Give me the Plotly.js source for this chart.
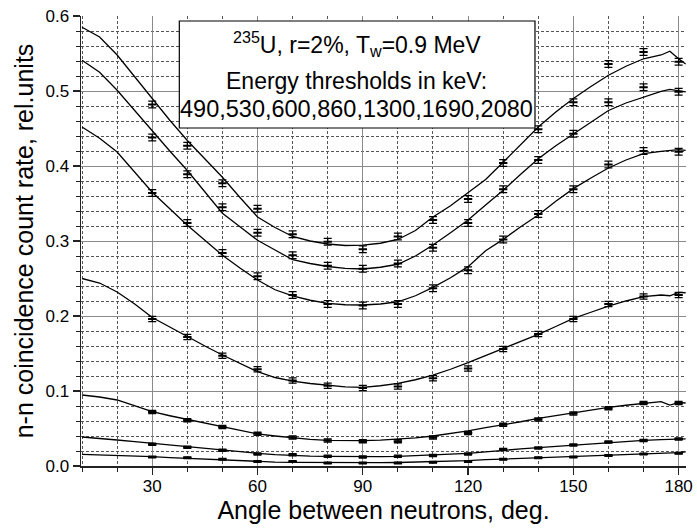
<!DOCTYPE html>
<html>
<head>
<meta charset="utf-8">
<script src="https://cdn.plot.ly/plotly-3.0.1.min.js"></script>
<style>html,body{margin:0;padding:0;background:#fff;}#chart{width:697px;height:528px;}</style>
</head>
<body>
<div id="chart"></div>
<script>
// Simulated curves (solid lines)
const curveAngles = [10,15,20,25,30,35,40,45,50,55,60,65,70,75,80,85,90,95,100,105,110,115,120,125,130,135,140,145,150,155,160,165,170,175,177.5,180,182];
const line490  = [0.585,0.572,0.548,0.519,0.489,0.461,0.434,0.409,0.385,0.358,0.332,0.318,0.306,0.300,0.296,0.294,0.2945,0.297,0.302,0.314,0.332,0.347,0.364,0.382,0.405,0.428,0.452,0.472,0.490,0.506,0.521,0.533,0.543,0.548,0.553,0.543,0.536];
const line530  = [0.541,0.525,0.501,0.474,0.446,0.420,0.394,0.366,0.337,0.319,0.301,0.288,0.275,0.270,0.266,0.2635,0.2627,0.265,0.269,0.280,0.2947,0.311,0.328,0.348,0.3676,0.389,0.4098,0.427,0.443,0.459,0.474,0.484,0.492,0.4996,0.5022,0.500,0.4987];
const line600  = [0.452,0.437,0.4187,0.392,0.365,0.343,0.321,0.301,0.281,0.264,0.248,0.235,0.2267,0.221,0.2169,0.215,0.2147,0.216,0.219,0.227,0.2382,0.251,0.2658,0.287,0.3022,0.319,0.3347,0.353,0.3698,0.384,0.3973,0.408,0.4164,0.4196,0.421,0.4218,0.4209];
const line860  = [0.250,0.244,0.232,0.216,0.198,0.185,0.172,0.160,0.148,0.137,0.1258,0.118,0.1133,0.110,0.1076,0.1055,0.1049,0.107,0.1102,0.115,0.1213,0.129,0.1378,0.147,0.157,0.166,0.1756,0.186,0.1969,0.205,0.2133,0.220,0.2258,0.228,0.227,0.2316,0.231];
const line1300 = [0.0947,0.092,0.088,0.080,0.0724,0.067,0.0622,0.057,0.0516,0.047,0.0427,0.040,0.0373,0.0355,0.0342,0.0338,0.0338,0.0345,0.0356,0.0375,0.040,0.043,0.0467,0.0511,0.0547,0.059,0.0636,0.0675,0.0711,0.075,0.0782,0.081,0.0836,0.0858,0.0813,0.0844,0.0840];
const line1690 = [0.0387,0.037,0.0347,0.0325,0.0302,0.028,0.0258,0.0235,0.0213,0.019,0.0169,0.0152,0.0140,0.0133,0.0129,0.0125,0.0124,0.0125,0.0129,0.0137,0.0147,0.0157,0.0169,0.0188,0.0213,0.0228,0.0244,0.0262,0.028,0.0298,0.0316,0.033,0.0342,0.0352,0.0356,0.036,0.0362];
const line2080 = [0.0156,0.015,0.0142,0.0133,0.0124,0.0113,0.0102,0.0091,0.008,0.0069,0.0058,0.0052,0.0048,0.0046,0.0045,0.0044,0.0044,0.0045,0.0047,0.0051,0.0058,0.0064,0.0071,0.0084,0.0093,0.0101,0.011,0.0117,0.0124,0.0131,0.0138,0.0147,0.0156,0.0166,0.0172,0.0178,0.019];

// Measured points (with error bars)
const pointAngles = [30,40,50,60,70,80,90,100,110,120,130,140,150,160,170,180];
const pts490  = [0.482,0.427,0.377,0.343,0.309,0.299,0.289,0.306,0.328,0.356,0.404,0.449,0.485,0.536,0.552,0.539];
const pts530  = [0.438,0.389,0.345,0.311,0.281,0.267,0.263,0.270,0.291,0.324,0.369,0.408,0.443,0.485,0.505,0.499];
const pts600  = [0.364,0.324,0.284,0.253,0.228,0.216,0.214,0.216,0.237,0.261,0.302,0.336,0.369,0.402,0.420,0.419];
const pts860  = [0.196,0.172,0.147,0.129,0.114,0.107,0.104,0.106,0.117,0.130,0.156,0.176,0.196,0.216,0.226,0.228];
const pts1300 = [0.072,0.061,0.052,0.043,0.038,0.034,0.033,0.033,0.038,0.044,0.055,0.062,0.070,0.077,0.084,0.084];
const pts1690 = [0.029,0.025,0.021,0.016,0.015,0.013,0.012,0.013,0.014,0.016,0.022,0.024,0.028,0.032,0.034,0.036];
const pts2080 = [0.012,0.011,0.009,0.006,0.006,0.004,0.004,0.004,0.005,0.006,0.009,0.011,0.012,0.014,0.016,0.017];
const errors = [0.0045,0.0045,0.0045,0.0035,0.002,0.0015,0.001];

const thresholds = ['490','530','600','860','1300','1690','2080'];
const lineSeries = [line490,line530,line600,line860,line1300,line1690,line2080];
const pointSeries = [pts490,pts530,pts600,pts860,pts1300,pts1690,pts2080];

const traces = [];
lineSeries.forEach((ys,i) => {
  traces.push({x: curveAngles, y: ys, type:'scatter', mode:'lines', name: thresholds[i]+' keV (calc)',
    line:{color:'#000', width:1.3}, showlegend:false});
});
pointSeries.forEach((ys,i) => {
  traces.push({x: pointAngles, y: ys, type:'scatter', mode:'markers', name: thresholds[i]+' keV',
    marker:{symbol:'line-ew', size:6, color:'#000', line:{color:'#000', width:2}},
    error_y:{type:'constant', value: errors[i], color:'#000', thickness:1.4, width:4},
    showlegend:false});
});

const FONT = 'Liberation Sans, Arial, sans-serif';
const xr = [9.7, 182.1], yr = [0, 0.6];
const layout = {
  width: 697, height: 528,
  margin: {l:81, r:11, t:16, b:62},
  paper_bgcolor:'#fff', plot_bgcolor:'#fff',
  font: {family: FONT, color:'#000'},
  showlegend: false,
  xaxis: {
    range: xr, tick0: 0, dtick: 30, ticks:'outside', ticklen: 7, tickwidth: 1.2, tickcolor:'#222',
    showline: true, linecolor:'#222', linewidth: 1.5, zeroline:false,
    showgrid: true, gridcolor:'#8a8a8a', gridwidth: 1,
    minor: {dtick: 10, tick0: 0, ticks:'outside', ticklen: 4, tickwidth: 1, tickcolor:'#222',
            showgrid: true, gridcolor:'#555', griddash:'3px,2px', gridwidth: 1},
    tickfont: {size: 17, family: FONT}, ticklabelstandoff: -3,
    title: {text: 'Angle between neutrons, deg.', font: {size: 25, family: FONT}, standoff: 2}
  },
  yaxis: {
    range: yr, tick0: 0, dtick: 0.1, tickformat: '.1f', ticks:'outside', ticklen: 7, tickwidth: 1.2, tickcolor:'#222',
    showline: true, linecolor:'#222', linewidth: 1.5, zeroline:false,
    showgrid: true, gridcolor:'#8a8a8a', gridwidth: 1,
    minor: {dtick: 0.02, tick0: 0, ticks:'outside', ticklen: 4, tickwidth: 1, tickcolor:'#222',
            showgrid: true, gridcolor:'#555', griddash:'3px,2px', gridwidth: 1},
    tickfont: {size: 17, family: FONT},
    title: {text: 'n-n coincidence count rate, rel.units', font: {size: 25, family: FONT}, standoff: 4}
  },
  xaxis2: {
    overlaying:'x', anchor:'y', side:'top', range: xr, tick0: 0, dtick: 30,
    ticks:'inside', ticklen: 7, tickwidth: 1.2, tickcolor:'#222', showticklabels:false,
    showline:true, linecolor:'#222', linewidth:1.5, showgrid:false, zeroline:false,
    minor: {dtick: 10, tick0: 0, ticks:'inside', ticklen: 4, tickwidth: 1, tickcolor:'#222', showgrid:false}
  },
  yaxis2: {
    overlaying:'y', anchor:'x', side:'right', range: yr, tick0: 0, dtick: 0.1,
    ticks:'inside', ticklen: 7, tickwidth: 1.2, tickcolor:'#222', showticklabels:false,
    showline:true, linecolor:'#222', linewidth:1.5, showgrid:false, zeroline:false,
    minor: {dtick: 0.02, tick0: 0, ticks:'inside', ticklen: 4, tickwidth: 1, tickcolor:'#222', showgrid:false}
  },
  shapes: [
    {type:'rect', xref:'paper', yref:'paper', x0:0.1625, x1:0.7504, y0:0.7511, y1:0.9889,
     fillcolor:'#fff', line:{color:'#000', width:1.2}, layer:'above'}
  ],
  annotations: [
    {xref:'paper', yref:'paper', x:0.456, y:0.9378, xanchor:'center', yanchor:'middle', showarrow:false,
     text:'<sup>235</sup>U, r=2%, T<sub>w</sub>=0.9 MeV', font:{size:23, family: FONT}},
    {xref:'paper', yref:'paper', x:0.456, y:0.8556, xanchor:'center', yanchor:'middle', showarrow:false,
     text:'Energy thresholds in keV:', font:{size:23, family: FONT}},
    {xref:'paper', yref:'paper', x:0.456, y:0.7933, xanchor:'center', yanchor:'middle', showarrow:false,
     text:'490,530,600,860,1300,1690,2080', font:{size:23.5, family: FONT}}
  ]
};

Plotly.newPlot('chart', traces, layout, {staticPlot:true, displayModeBar:false});
</script>
</body>
</html>
